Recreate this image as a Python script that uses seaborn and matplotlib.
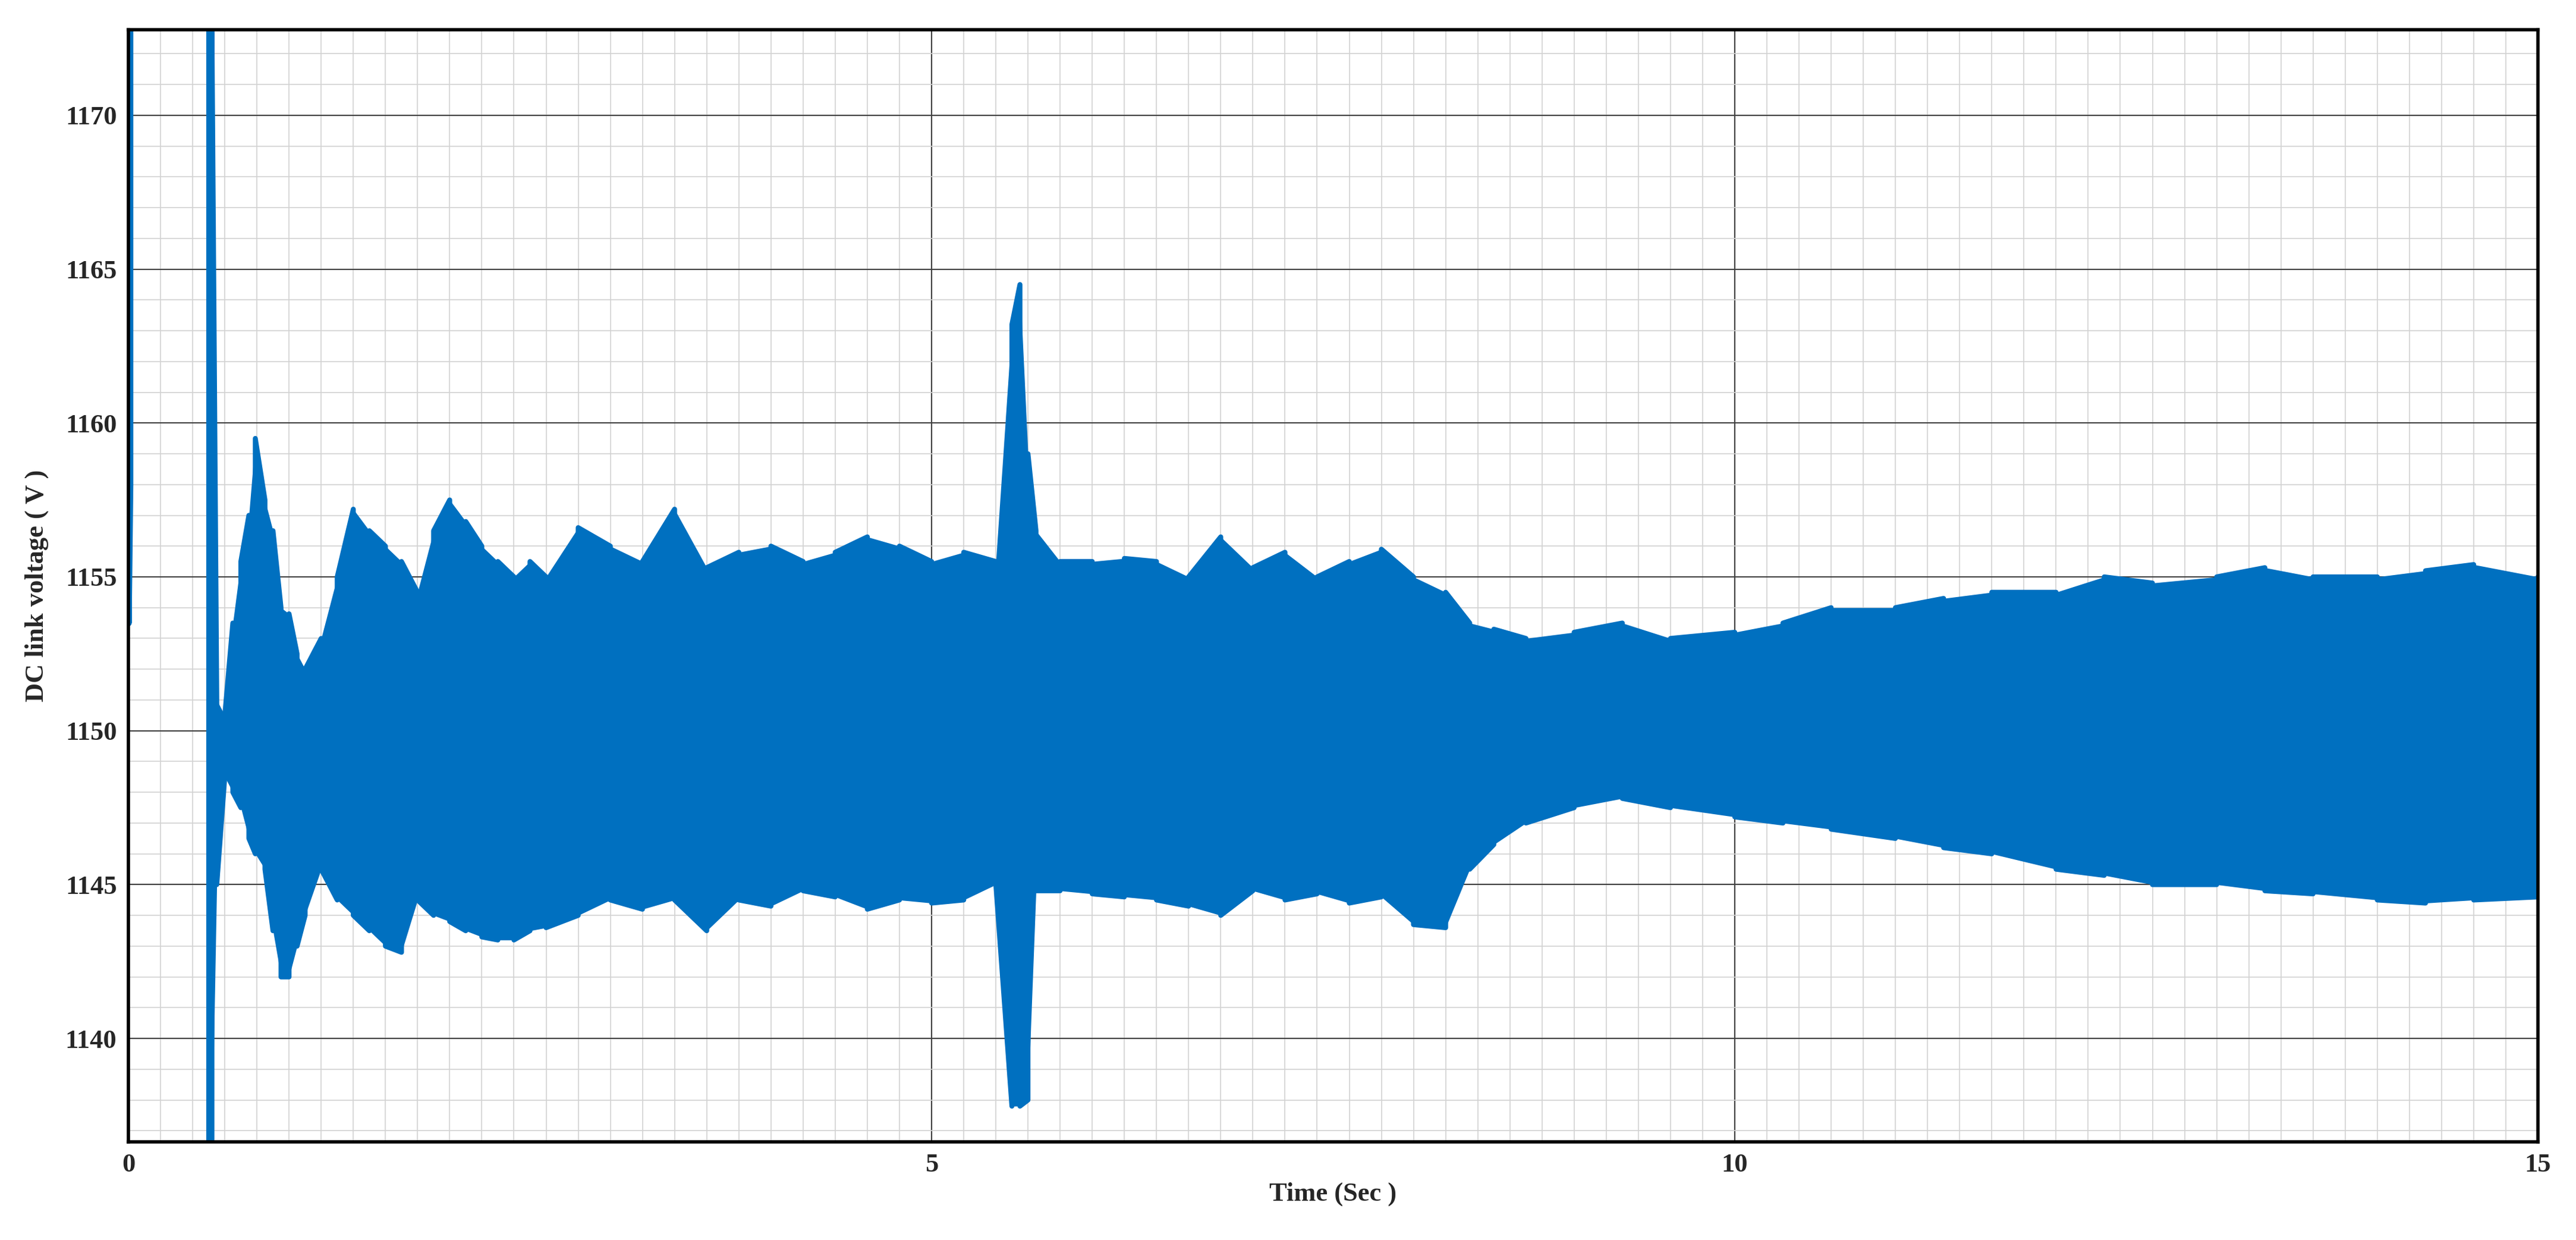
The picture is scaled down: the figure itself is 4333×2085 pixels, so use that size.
import numpy as np
import matplotlib
matplotlib.use("Agg")
import matplotlib.pyplot as plt
import seaborn as sns
from matplotlib.ticker import MultipleLocator

sns.set_theme(style="white")
plt.rcParams['font.family'] = ['Liberation Serif', 'DejaVu Serif']

# Initial transient at t = 0 (min / max of the visible bar)
t0 = [0.0, 0.01]
t0_upper = [1172.8, 1172.8]
t0_lower = [1153.5, 1158.0]

# Envelope readings (time in s, upper / lower DC link voltage in V)
t_pts = [0.5, 0.52, 0.55, 0.6, 0.65, 0.7, 0.75, 0.79, 0.85, 0.9, 0.95, 1.0, 1.05, 1.1, 1.2, 1.3, 1.4, 1.5,
         1.6, 1.7, 1.8, 1.9, 2.0, 2.1, 2.2, 2.3, 2.4, 2.5, 2.6, 2.8, 3.0, 3.2, 3.4, 3.6, 3.8, 4.0,
         4.2, 4.4, 4.6, 4.8, 5.0, 5.2, 5.4, 5.5, 5.55, 5.6, 5.65, 5.8, 6.0, 6.2, 6.4, 6.6, 6.8,
         7.0, 7.2, 7.4, 7.6, 7.8, 8.0, 8.2, 8.35, 8.5, 8.7, 9.0, 9.3, 9.6, 10.0, 10.3, 10.6, 11.0,
         11.3, 11.6, 12.0, 12.3, 12.6, 13.0, 13.3, 13.6, 14.0, 14.3, 14.6, 15.0]
upper = [1172.8, 1172.8, 1151.0, 1150.5, 1153.5, 1155.5, 1157.0, 1159.5, 1157.5, 1156.5, 1154.0, 1153.8, 1152.5, 1152.0, 1153.0, 1155.0, 1157.2, 1156.5,
         1156.0, 1155.5, 1154.5, 1156.5, 1157.5, 1156.8, 1156.0, 1155.5, 1155.0, 1155.5, 1155.0, 1156.6, 1156.0, 1155.5, 1157.2, 1155.3, 1155.8, 1156.0,
         1155.5, 1155.8, 1156.3, 1156.0, 1155.5, 1155.8, 1155.5, 1163.2, 1164.5, 1159.0, 1156.5, 1155.5, 1155.5, 1155.6, 1155.5, 1155.0, 1156.3,
         1155.3, 1155.8, 1155.0, 1155.5, 1155.9, 1155.0, 1154.5, 1153.5, 1153.3, 1153.0, 1153.2, 1153.5, 1153.0, 1153.2, 1153.5, 1154.0, 1154.0,
         1154.3, 1154.5, 1154.5, 1155.0, 1154.8, 1155.0, 1155.3, 1155.0, 1155.0, 1155.2, 1155.4, 1155.0]
lower = [1136.6, 1136.6, 1145.0, 1148.5, 1148.0, 1147.5, 1146.5, 1146.0, 1145.5, 1143.5, 1142.0, 1142.0, 1143.0, 1144.0, 1145.5, 1144.5, 1144.0, 1143.5,
         1143.0, 1142.8, 1144.5, 1144.0, 1143.8, 1143.5, 1143.3, 1143.2, 1143.2, 1143.5, 1143.6, 1144.0, 1144.5, 1144.2, 1144.5, 1143.5, 1144.5, 1144.3,
         1144.8, 1144.6, 1144.2, 1144.5, 1144.4, 1144.5, 1145.0, 1137.8, 1137.8, 1138.0, 1144.8, 1144.8, 1144.7, 1144.6, 1144.5, 1144.3, 1144.0,
         1144.8, 1144.5, 1144.7, 1144.4, 1144.6, 1143.7, 1143.6, 1145.5, 1146.3, 1147.0, 1147.5, 1147.8, 1147.5, 1147.2, 1147.0, 1146.8, 1146.5,
         1146.2, 1146.0, 1145.5, 1145.3, 1145.0, 1145.0, 1144.8, 1144.7, 1144.5, 1144.4, 1144.5, 1144.6]

def zigzag(ts, up, lo):
    tz, vz = [], []
    for i in range(len(ts)):
        tz += [ts[i], ts[i]]
        vz += [up[i], lo[i]] if i % 2 == 0 else [lo[i], up[i]]
    return tz, vz

fig = plt.figure(figsize=(43.33, 20.85), dpi=100)
ax = fig.add_axes([216/4333, 1 - 1920/2085, (4269-216)/4333, (1920-50)/2085])
color = "#0070C0"

ax.fill_between(t_pts, lower, upper, color=color, lw=0)
tz, vz = zigzag(t_pts, upper, lower)
sns.lineplot(x=tz, y=vz, ax=ax, color=color, lw=6, sort=False, estimator=None)
tz0, vz0 = zigzag(t0, t0_upper, t0_lower)
sns.lineplot(x=tz0, y=vz0, ax=ax, color=color, lw=8, sort=False, estimator=None)

ax.set_xlim(0, 15)
ax.set_ylim(1136.64, 1172.78)
ax.xaxis.set_major_locator(MultipleLocator(5))
ax.xaxis.set_minor_locator(MultipleLocator(0.2))
ax.yaxis.set_major_locator(MultipleLocator(5))
ax.yaxis.set_minor_locator(MultipleLocator(1))
ax.grid(which="major", color="#404040", lw=1.5)
ax.grid(which="minor", color="#d2d2d2", lw=1.2)
ax.set_axisbelow(True)
for s in ax.spines.values():
    s.set_color("black"); s.set_linewidth(4)
ax.tick_params(axis="both", which="major", labelsize=32, length=0, pad=14)
for lab in ax.get_xticklabels() + ax.get_yticklabels():
    lab.set_fontweight("bold")
ax.set_xlabel("Time (Sec )", fontsize=32, fontweight="bold", labelpad=6)
ax.set_ylabel("DC link voltage ( V )", fontsize=32, fontweight="bold", labelpad=20)
fig.savefig("out.png", dpi=100)
